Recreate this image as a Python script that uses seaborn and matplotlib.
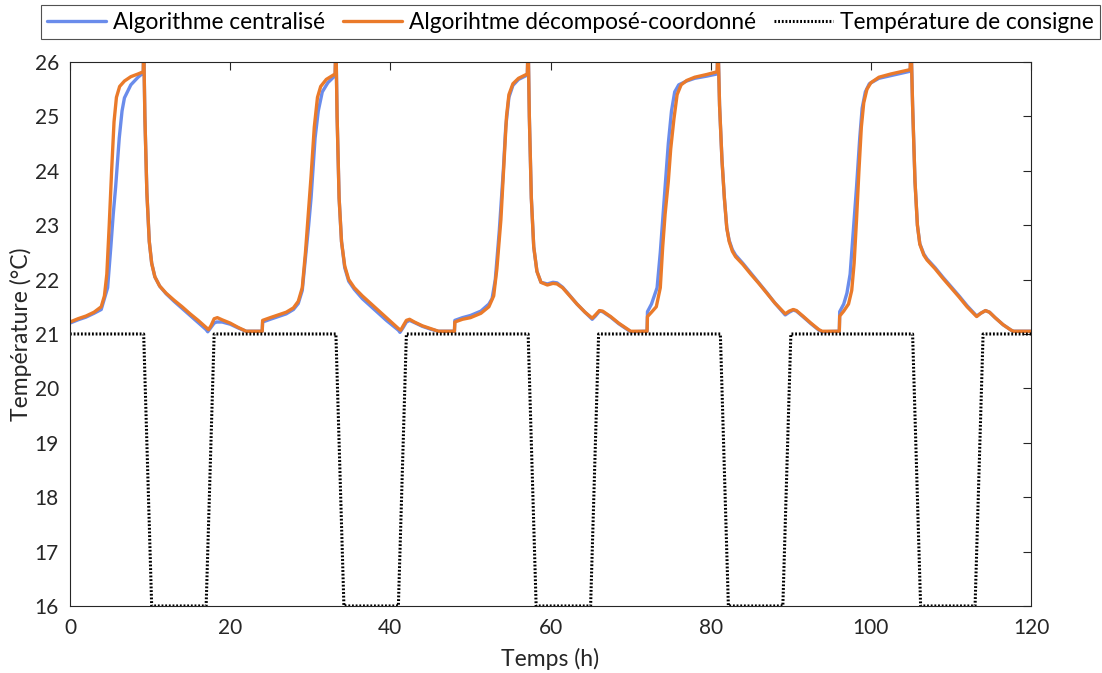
import numpy as np
import pandas as pd
import matplotlib
matplotlib.use("Agg")
import matplotlib.pyplot as plt
import seaborn as sns

# ---- Data ----
t_dec = [0, 1, 2, 3, 3.9, 4.3, 4.6, 4.9, 5.2, 5.5, 5.8, 6.2, 6.8, 7.6, 8.5, 9.15, 9.2, 9.35, 9.6, 9.9, 10.2, 10.6, 11.2, 12, 13, 14, 15, 16, 17.0, 17.3, 17.6, 18.0, 18.4, 19, 20, 21, 22, 24.0,
         24.05, 25, 26, 27, 27.9, 28.5, 29, 29.4, 29.8, 30.1, 30.5, 30.9, 31.3, 32, 33.1, 33.2, 33.35, 33.6, 33.9, 34.3, 34.8, 35.5, 36.5, 38, 39.5, 41.0, 41.3, 41.6, 42.0, 42.4, 43, 44, 45, 46, 48.0,
         48.05, 49, 50, 51.3, 52.3, 52.9, 53.3, 53.8, 54.2, 54.5, 54.8, 55.3, 56, 57.1, 57.2, 57.35, 57.6, 57.9, 58.3, 58.8, 59.6, 60.3, 60.8, 61.5, 62.1, 63.3, 64.3, 65.2, 65.6, 66.1, 66.5, 67.5, 68.5, 69.5, 70, 72.05,
         72.1, 72.6, 73.2, 73.7, 74.0, 74.3, 74.7, 75.0, 75.4, 75.8, 76.3, 77, 78, 79.5, 80.8, 80.9, 81.1, 81.4, 81.7, 82.0, 82.3, 82.7, 83.1, 84, 85, 86, 87, 88, 89.3, 89.8, 90.3, 90.7, 91.5, 92.5, 93.5, 93.9, 96.05,
         96.1, 96.6, 97.2, 97.6, 97.9, 98.2, 98.5, 98.8, 99.1, 99.5, 100, 101, 102.5, 104, 104.9, 105.0, 105.2, 105.5, 105.8, 106.1, 106.6, 107, 108, 109, 110, 111, 112, 113.2, 113.7, 114.3, 114.8, 115.5, 116.5, 117.5, 117.8, 120]
T_dec = [21.22, 21.28, 21.33, 21.40, 21.50, 21.70, 22.10, 23.0, 24.0, 24.9, 25.35, 25.55, 25.65, 25.73, 25.78, 25.82, 26.4, 25.0, 23.6, 22.7, 22.3, 22.05, 21.88, 21.75, 21.62, 21.50, 21.37, 21.25, 21.12, 21.08, 21.15, 21.28, 21.30, 21.26, 21.20, 21.12, 21.05, 21.05,
         21.25, 21.30, 21.35, 21.40, 21.48, 21.60, 21.85, 22.5, 23.3, 23.9, 24.8, 25.35, 25.55, 25.68, 25.78, 26.4, 25.0, 23.5, 22.7, 22.25, 22.0, 21.85, 21.70, 21.50, 21.30, 21.10, 21.07, 21.15, 21.25, 21.27, 21.22, 21.15, 21.10, 21.05, 21.05,
         21.22, 21.27, 21.30, 21.38, 21.50, 21.70, 22.2, 23.1, 24.2, 25.0, 25.4, 25.6, 25.7, 25.78, 26.4, 25.0, 23.5, 22.6, 22.15, 21.95, 21.90, 21.93, 21.92, 21.85, 21.75, 21.55, 21.40, 21.29, 21.35, 21.43, 21.42, 21.32, 21.20, 21.10, 21.05, 21.05,
         21.32, 21.40, 21.50, 21.85, 22.6, 23.2, 23.8, 24.4, 24.95, 25.4, 25.58, 25.66, 25.72, 25.77, 25.82, 26.4, 25.2, 24.2, 23.5, 22.95, 22.7, 22.52, 22.42, 22.28, 22.10, 21.93, 21.75, 21.57, 21.37, 21.42, 21.45, 21.43, 21.33, 21.20, 21.08, 21.05, 21.05,
         21.33, 21.42, 21.55, 21.80, 22.3, 23.1, 24.0, 24.8, 25.25, 25.5, 25.62, 25.72, 25.78, 25.83, 25.86, 26.4, 25.2, 23.8, 23.0, 22.65, 22.45, 22.36, 22.20, 22.02, 21.85, 21.68, 21.50, 21.32, 21.38, 21.43, 21.40, 21.30, 21.17, 21.07, 21.05, 21.05]

t_cen = [0, 1, 2, 3, 3.9, 4.7, 5.1, 5.4, 5.7, 6.15, 6.5, 6.8, 7.6, 8.5, 9.15, 9.2, 9.35, 9.6, 9.9, 10.2, 10.6, 11.2, 12, 13, 14, 15, 16, 17.0, 17.2, 17.6, 18.0, 18.3, 19, 20, 21, 22, 24.0,
         24.05, 25, 26, 27, 27.9, 28.5, 29, 29.4, 29.8, 30.1, 30.6, 31.0, 31.5, 32.2, 33.1, 33.2, 33.35, 33.6, 33.9, 34.3, 34.8, 35.5, 36.5, 38, 39.5, 41.0, 41.2, 41.6, 42.0, 42.4, 43, 44, 45, 46, 48.0,
         48.05, 49, 50, 51.3, 52.3, 52.7, 53.1, 53.6, 54.1, 54.4, 54.8, 55.3, 56, 57.1, 57.2, 57.35, 57.6, 57.9, 58.3, 58.8, 59.6, 60.3, 60.8, 61.5, 62.1, 63.3, 64.3, 65.2, 65.6, 66.1, 66.5, 67.5, 68.5, 69.5, 70, 72.05,
         72.1, 72.6, 73.3, 73.7, 74.0, 74.3, 74.7, 75.1, 75.5, 76, 77, 78, 79.5, 80.8, 80.9, 81.1, 81.4, 81.7, 82.0, 82.3, 82.7, 83.1, 84, 85, 86, 87, 88, 89.3, 89.8, 90.3, 90.7, 91.5, 92.5, 93.5, 93.9, 96.05,
         96.1, 96.6, 97.0, 97.4, 97.8, 98.2, 98.6, 98.9, 99.3, 99.8, 101, 102.5, 104, 104.9, 105.0, 105.2, 105.5, 105.8, 106.1, 106.6, 107, 108, 109, 110, 111, 112, 113.2, 113.7, 114.3, 114.8, 115.5, 116.5, 117.5, 117.8, 120]
T_cen = [21.20, 21.26, 21.31, 21.38, 21.45, 21.85, 22.6, 23.2, 23.7, 24.6, 25.1, 25.34, 25.58, 25.72, 25.80, 26.4, 25.0, 23.6, 22.7, 22.3, 22.05, 21.88, 21.74, 21.60, 21.47, 21.34, 21.21, 21.08, 21.04, 21.12, 21.20, 21.22, 21.22, 21.18, 21.11, 21.05, 21.05,
         21.22, 21.27, 21.32, 21.37, 21.45, 21.56, 21.80, 22.4, 23.0, 23.5, 24.6, 25.1, 25.45, 25.62, 25.75, 26.4, 25.0, 23.5, 22.7, 22.22, 21.97, 21.82, 21.65, 21.45, 21.25, 21.07, 21.03, 21.12, 21.22, 21.25, 21.21, 21.14, 21.09, 21.05, 21.05,
         21.25, 21.30, 21.34, 21.42, 21.55, 21.65, 22.0, 22.9, 24.0, 24.8, 25.35, 25.57, 25.68, 25.76, 26.4, 25.0, 23.5, 22.6, 22.15, 21.95, 21.92, 21.95, 21.94, 21.86, 21.76, 21.55, 21.40, 21.27, 21.33, 21.42, 21.41, 21.31, 21.19, 21.09, 21.04, 21.05,
         21.41, 21.55, 21.85, 22.5, 23.1, 23.7, 24.5, 25.1, 25.45, 25.58, 25.65, 25.70, 25.74, 25.78, 26.4, 25.2, 24.2, 23.5, 22.95, 22.72, 22.55, 22.45, 22.30, 22.12, 21.94, 21.76, 21.57, 21.35, 21.40, 21.44, 21.42, 21.32, 21.19, 21.07, 21.04, 21.05,
         21.41, 21.55, 21.75, 22.1, 22.9, 23.7, 24.6, 25.15, 25.45, 25.6, 25.70, 25.75, 25.80, 25.83, 26.4, 25.2, 23.8, 23.0, 22.66, 22.47, 22.38, 22.22, 22.04, 21.87, 21.70, 21.52, 21.33, 21.38, 21.43, 21.40, 21.30, 21.17, 21.07, 21.05, 21.05]

t_set = [0, 9.2, 10.2, 17.0, 18.0, 33.2, 34.2, 41.0, 42.0, 57.2, 58.2, 65.0, 66.0, 81.2, 82.2, 89.0, 90.0, 105.2, 106.2, 113.0, 114.0, 120]
T_set = [21, 21, 16, 16, 21, 21, 16, 16, 21, 21, 16, 16, 21, 21, 16, 16, 21, 21, 16, 16, 21, 21]

labels = ["Algorithme centralisé", "Algorihtme décomposé-coordonné", "Température de consigne"]
x_ticks = [0, 20, 40, 60, 80, 100, 120]
y_ticks = list(range(16, 27))

# ---- Style ----
sns.set_theme(style="white")
plt.rcParams["font.family"] = ["Lato", "DejaVu Sans"]

fig = plt.figure(figsize=(11.02, 6.73), dpi=100)
ax = fig.add_axes([0.0635, 0.0996, 0.8722, 0.8083])

blue = "#6A8CEB"
orange = "#EA7A2A"

df_c = pd.DataFrame({"t": t_cen, "T": T_cen})
df_d = pd.DataFrame({"t": t_dec, "T": T_dec})
df_s = pd.DataFrame({"t": t_set, "T": T_set})

sns.lineplot(data=df_c, x="t", y="T", ax=ax, color=blue, lw=2.4, estimator=None, sort=False, label=labels[0])
sns.lineplot(data=df_d, x="t", y="T", ax=ax, color=orange, lw=2.4, estimator=None, sort=False, label=labels[1])
sns.lineplot(data=df_s, x="t", y="T", ax=ax, color="black", lw=2.2, estimator=None, sort=False,
             linestyle=(0, (0.6, 0.6)), label=labels[2])

ax.set_xlim(0, 120)
ax.set_ylim(16, 26)
ax.set_xticks(x_ticks)
ax.set_yticks(y_ticks)
ax.set_xlabel("Temps (h)", fontsize=16.5, color="#262626", labelpad=7)
ax.set_ylabel("Température (°C)", fontsize=16.5, color="#262626", labelpad=2)
ax.tick_params(axis="both", direction="in", length=6, width=0.8, colors="#262626",
               labelsize=15, top=True, right=True, labeltop=False, labelright=False, pad=9)
ax.tick_params(axis="y", pad=8)
for s in ax.spines.values():
    s.set_visible(True)
    s.set_color("#262626")
    s.set_linewidth(0.8)

ax.get_legend().remove()
handles, labs = ax.get_legend_handles_labels()
leg = fig.legend(handles, labs, loc="upper center", bbox_to_anchor=(0.5175, 0.993), ncol=3,
                 frameon=True, fancybox=False, fontsize=16.3, handlelength=2.6, handletextpad=0.3,
                 columnspacing=0.8, borderpad=0.3, borderaxespad=0.0, edgecolor="#262626")
leg.get_frame().set_linewidth(0.8)
for txt in leg.get_texts():
    txt.set_color("#000000")

fig.savefig("out.png", dpi=100, facecolor="white")
